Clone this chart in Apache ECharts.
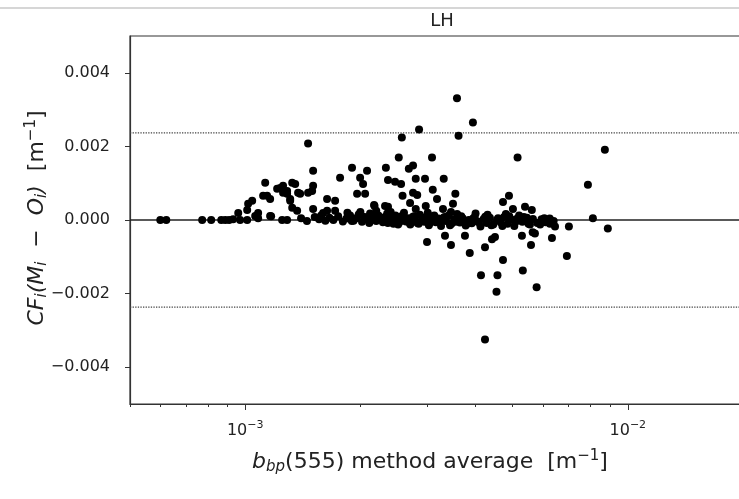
<!DOCTYPE html>
<html>
<head>
<meta charset="utf-8">
<script src="https://cdn.jsdelivr.net/npm/echarts@6/dist/echarts.min.js"></script>
<style>
  html, body { margin: 0; padding: 0; background: #fff; }
  #chart { width: 739px; height: 499px; }
</style>
</head>
<body>
<div id="chart"></div>
<script>
// b_bp(555) method average [m^-1]
const bbpAvg = [
  0.600e-3, 0.622e-3, 0.772e-3, 0.815e-3, 0.866e-3, 0.887e-3, 0.908e-3, 0.930e-3, 0.970e-3, 1.012e-3,
  1.081e-3, 1.169e-3, 1.249e-3, 1.287e-3,
  0.959e-3, 1.012e-3, 1.018e-3, 1.043e-3, 1.062e-3, 1.081e-3, 1.114e-3, 1.128e-3, 1.141e-3, 1.162e-3,
  1.162e-3, 1.212e-3, 1.234e-3, 1.256e-3, 1.287e-3, 1.327e-3, 1.351e-3, 1.287e-3, 1.311e-3, 1.327e-3,
  1.367e-3, 1.375e-3, 1.392e-3, 1.311e-3, 1.256e-3, 1.460e-3, 1.496e-3, 1.505e-3, 1.505e-3, 1.460e-3,
  1.505e-3, 1.637e-3, 1.637e-3, 1.718e-3, 1.718e-3, 1.598e-3, 1.770e-3, 1.902e-3, 1.997e-3, 2.033e-3,
  2.082e-3, 2.058e-3, 1.961e-3, 2.178e-3, 2.332e-3, 2.362e-3, 2.520e-3, 2.172e-3, 2.320e-3, 2.362e-3,
  2.464e-3, 2.555e-3, 2.677e-3, 2.746e-3, 2.791e-3, 2.951e-3, 3.303e-3, 2.578e-3, 2.746e-3, 2.816e-3,
  2.697e-3, 3.092e-3, 3.172e-3, 3.542e-3, 3.492e-3, 4.891e-3, 4.718e-3, 5.009e-3, 5.386e-3, 5.612e-3,
  2.964e-3, 3.288e-3, 2.791e-3,
  3.577e-3, 3.937e-3, 2.847e-3, 2.567e-3, 3.611e-3, 3.078e-3, 5.151e-3, 8.710e-3, 7.865e-3, 8.104e-3,
  8.867e-3,
  2.987e-3, 3.328e-3, 3.450e-3, 3.753e-3, 3.863e-3, 4.234e-3, 4.416e-3, 4.496e-3, 5.288e-3, 5.584e-3,
  6.335e-3, 7.015e-3, 6.930e-3, 4.718e-3, 4.133e-3, 4.564e-3, 4.537e-3, 5.316e-3, 5.776e-3, 4.234e-3,
  5.718e-3, 5.641e-3, 6.258e-3, 6.452e-3,
  1.40e-3, 1.45e-3, 1.52e-3, 1.56e-3, 1.62e-3, 1.66e-3, 1.70e-3, 1.75e-3, 1.80e-3, 1.84e-3,
  1.88e-3, 1.92e-3, 1.95e-3, 1.98e-3, 2.02e-3, 2.05e-3, 2.08e-3, 2.11e-3, 2.14e-3, 2.17e-3,
  2.20e-3, 2.23e-3, 2.26e-3, 2.29e-3, 2.32e-3, 2.35e-3, 2.38e-3, 2.41e-3, 2.44e-3, 2.47e-3,
  2.50e-3, 2.53e-3, 2.56e-3, 2.60e-3, 2.63e-3, 2.66e-3, 2.70e-3, 2.74e-3, 2.78e-3, 2.82e-3,
  2.86e-3, 2.90e-3, 2.94e-3, 2.98e-3, 3.02e-3, 3.06e-3, 3.10e-3, 3.15e-3, 3.20e-3, 3.25e-3,
  3.30e-3, 3.35e-3, 3.40e-3, 3.46e-3, 3.52e-3, 3.58e-3, 3.64e-3, 3.70e-3, 3.77e-3, 3.84e-3,
  3.91e-3, 3.98e-3, 4.05e-3, 4.12e-3, 4.20e-3, 4.28e-3, 4.36e-3, 4.45e-3, 4.55e-3, 4.65e-3,
  4.75e-3, 4.85e-3, 4.95e-3, 5.05e-3, 5.15e-3, 5.30e-3, 5.45e-3, 5.55e-3, 5.65e-3, 5.80e-3,
  5.95e-3, 6.10e-3, 6.25e-3, 6.40e-3,
  1.85e-3, 2.00e-3, 2.12e-3, 2.40e-3, 3.00e-3, 3.45e-3, 4.00e-3, 4.30e-3, 4.80e-3, 5.20e-3,
  2.20e-3, 1.58e-3,
  2.36e-3, 2.43e-3, 2.51e-3, 2.58e-3, 2.68e-3, 2.76e-3, 2.84e-3, 2.92e-3, 3.04e-3, 3.12e-3,
  3.22e-3, 3.32e-3, 3.43e-3, 3.55e-3, 3.67e-3, 3.80e-3, 3.94e-3, 4.08e-3, 4.24e-3, 4.40e-3,
  4.58e-3, 4.70e-3, 4.90e-3, 5.10e-3, 5.35e-3, 5.50e-3, 5.90e-3, 6.05e-3, 1.90e-3, 2.06e-3
];

// CF_i (M_i - O_i) [m^-1]
const cfDiff = [
  0, 0, 0, 0, 0, 0, 0, 0.02e-3, 0, 0,
  0.05e-3, 0.10e-3, 0, 0,
  0.19e-3, 0.27e-3, 0.44e-3, 0.52e-3, 0.11e-3, 0.19e-3, 0.66e-3, 1.01e-3, 0.66e-3, 0.57e-3,
  0.11e-3, 0.85e-3, 0.87e-3, 0.93e-3, 0.79e-3, 1.01e-3, 0.98e-3, 0.71e-3, 0.57e-3, 0.33e-3,
  0.25e-3, 0.74e-3, 0.71e-3, 0.52e-3, 0.74e-3, 0.74e-3, 0.79e-3, 0.93e-3, 1.34e-3, 2.08e-3,
  0.30e-3, 0.57e-3, 0.25e-3, 0.52e-3, 0.25e-3, 0.19e-3, 1.15e-3, 1.42e-3, 1.15e-3, 0.98e-3,
  1.34e-3, 0.71e-3, 0.71e-3, 0.38e-3, 1.42e-3, 1.09e-3, 1.70e-3, 0.41e-3, 0.38e-3, 0.36e-3,
  1.04e-3, 0.98e-3, 1.39e-3, 1.48e-3, 1.12e-3, 1.12e-3, 1.12e-3, 0.66e-3, 0.74e-3, 0.68e-3,
  0.46e-3, 0.82e-3, 0.57e-3, 0.71e-3, 0.44e-3, 0.66e-3, 0.49e-3, 0.30e-3, 0.36e-3, 0.27e-3,
  0.38e-3, 0.30e-3, 0.30e-3,
  3.31e-3, 2.65e-3, 2.46e-3, 2.24e-3, 2.29e-3, 1.70e-3, 1.70e-3, 1.91e-3, 0.96e-3, 0.05e-3,
  -0.23e-3,
  -0.60e-3, -0.43e-3, -0.68e-3, -0.43e-3, -0.90e-3, -0.74e-3, -0.52e-3, -0.46e-3, -0.43e-3, -0.68e-3,
  -0.49e-3, -0.18e-3, -0.98e-3, -1.09e-3, -1.50e-3, -1.50e-3, -1.95e-3, -1.37e-3, -1.83e-3, -3.25e-3,
  -0.37e-3, -0.33e-3, -0.10e-3, -0.18e-3,
  0.05e-3, -0.03e-3, 0.08e-3, 0.02e-3, -0.02e-3, 0.06e-3, 0, 0.10e-3, -0.04e-3, 0.04e-3,
  0.12e-3, -0.02e-3, 0.05e-3, 0.15e-3, -0.05e-3, 0.08e-3, 0.02e-3, -0.08e-3, 0.10e-3, 0.03e-3,
  -0.03e-3, 0.12e-3, 0.05e-3, -0.06e-3, 0.08e-3, 0.18e-3, -0.02e-3, 0.06e-3, -0.10e-3, 0.12e-3,
  0.02e-3, -0.06e-3, 0.10e-3, 0.20e-3, -0.04e-3, 0.05e-3, -0.12e-3, 0.08e-3, 0, -0.08e-3,
  0.14e-3, 0.03e-3, -0.05e-3, 0.09e-3, -0.14e-3, 0.02e-3, 0.10e-3, -0.06e-3, 0.04e-3, -0.16e-3,
  0.06e-3, -0.03e-3, 0.12e-3, -0.10e-3, 0.02e-3, 0.16e-3, -0.07e-3, 0.05e-3, -0.15e-3, 0,
  -0.09e-3, 0.08e-3, -0.04e-3, -0.18e-3, 0.03e-3, -0.08e-3, 0.06e-3, -0.12e-3, 0, -0.06e-3,
  0.08e-3, -0.10e-3, 0.02e-3, -0.16e-3, 0.05e-3, -0.05e-3, 0.06e-3, -0.12e-3, 0.03e-3, -0.08e-3,
  0.02e-3, -0.06e-3, 0.04e-3, -0.03e-3,
  0.20e-3, 0.22e-3, 0.18e-3, 0.22e-3, 0.20e-3, 0.22e-3, 0.18e-3, 0.14e-3, 0.16e-3, 0.12e-3,
  0.25e-3, 0.12e-3,
  -0.08e-3, 0.04e-3, -0.12e-3, 0.08e-3, -0.06e-3, 0.10e-3, -0.10e-3, 0.06e-3, -0.08e-3, 0.12e-3,
  -0.04e-3, 0.08e-3, -0.14e-3, -0.05e-3, 0.10e-3, -0.10e-3, 0.04e-3, -0.06e-3, 0.09e-3, -0.14e-3,
  0.05e-3, -0.16e-3, 0.10e-3, -0.04e-3, 0.08e-3, -0.10e-3, -0.12e-3, 0.05e-3, -0.03e-3, 0.06e-3
];

const yTicks = [-0.004, -0.002, 0, 0.002, 0.004];
const xMajorTicks = [1e-3, 1e-2];
const xMinorTicks = [5e-4, 6e-4, 7e-4, 8e-4, 9e-4, 2e-3, 3e-3, 4e-3, 5e-3, 6e-3, 7e-3, 8e-3, 9e-3, 2e-2];
const xRange = [5e-4, 2e-2];
const limitLines = [0.00237, -0.00237];
const zeroLine = 0;

const FONT = 'DejaVu Sans';
const AXIS_COLOR = '#333';
const TEXT_COLOR = '#222';

const chart = echarts.init(document.getElementById('chart'));

// horizontal reference line drawn across the full x range
const hLine = (y, style) => ({
  type: 'line',
  data: xRange.map(x => [x, y]),
  symbol: 'none',
  silent: true,
  z: 1,
  lineStyle: style
});

const option = {
  animation: false,
  backgroundColor: '#fff',
  textStyle: { fontFamily: FONT },
  title: {
    text: 'LH',
    left: 437,
    top: 7,
    textAlign: 'center',
    textStyle: { fontFamily: FONT, fontSize: 18, fontWeight: 'normal', color: TEXT_COLOR }
  },
  grid: {
    left: 130, top: 36, width: 613, height: 368,
    outerBoundsMode: 'none',
    show: true, borderColor: AXIS_COLOR, borderWidth: 1.2
  },
  xAxis: [{
    type: 'log', logBase: 10, min: xRange[0], max: xRange[1],
    axisLine: { show: true, onZero: false, lineStyle: { color: AXIS_COLOR, width: 1.2 } },
    axisTick: { show: true, customValues: xMajorTicks, length: 6, lineStyle: { color: AXIS_COLOR } },
    axisLabel: {
      customValues: xMajorTicks, margin: 16, color: TEXT_COLOR,
      formatter: v => '10{sup|' + (v < 5e-3 ? '\u22123' : '\u22122') + '}',
      rich: { sup: { fontSize: 11, fontFamily: FONT, color: TEXT_COLOR, padding: [0, 0, 11, 0] } },
      fontSize: 16, fontFamily: FONT
    },
    splitLine: { show: false }
  }, {
    type: 'log', logBase: 10, min: xRange[0], max: xRange[1], position: 'bottom',
    axisLine: { show: false, onZero: false },
    axisTick: { show: true, customValues: xMinorTicks, length: 3, lineStyle: { color: AXIS_COLOR } },
    axisLabel: { show: false },
    splitLine: { show: false }
  }],
  yAxis: {
    type: 'value', min: -0.005, max: 0.005,
    axisLine: { show: true, onZero: false, lineStyle: { color: AXIS_COLOR, width: 1.2 } },
    axisTick: { show: true, customValues: yTicks, length: 5, lineStyle: { color: AXIS_COLOR } },
    axisLabel: {
      customValues: yTicks, margin: 20, color: TEXT_COLOR, fontSize: 16, fontFamily: FONT,
      formatter: v => (v < 0 ? '\u2212' : '') + Math.abs(v).toFixed(3)
    },
    splitLine: { show: false }
  },
  graphic: [
    {
      type: 'line', silent: true,
      shape: { x1: 0, y1: 8, x2: 739, y2: 8 },
      style: { stroke: '#c8c8c8', lineWidth: 1.5 }
    },
    {
      type: 'text', silent: true,
      x: 430, y: 462,
      style: {
        text: '{it|b}{sub|bp}(555) method average  [m{sup|\u22121}]',
        fontFamily: FONT, fontSize: 22, fill: TEXT_COLOR,
        align: 'center', verticalAlign: 'middle',
        rich: {
          it: { fontStyle: 'italic', fontSize: 22, fontFamily: FONT },
          sub: { fontStyle: 'italic', fontSize: 15, fontFamily: FONT, padding: [11, 0, 0, 0] },
          sup: { fontSize: 15, fontFamily: FONT, padding: [0, 0, 12, 0] }
        }
      }
    },
    {
      type: 'text', silent: true,
      x: 37, y: 218, rotation: Math.PI / 2,
      style: {
        text: '{it|CF}{sub|i}{it|(M}{sub|i}{n|  \u2212  }{it|O}{sub|i}{it|)}  [m{sup|\u22121}]',
        fontFamily: FONT, fontSize: 22, fill: TEXT_COLOR,
        align: 'center', verticalAlign: 'middle',
        rich: {
          it: { fontStyle: 'italic', fontSize: 22, fontFamily: FONT },
          n: { fontSize: 22, fontFamily: FONT },
          sub: { fontStyle: 'italic', fontSize: 15, fontFamily: FONT, padding: [11, 0, 0, 0] },
          sup: { fontSize: 15, fontFamily: FONT, padding: [0, 0, 12, 0] }
        }
      }
    }
  ],
  series: [
    hLine(zeroLine, { color: '#222', width: 1.5, type: 'solid' }),
    hLine(limitLines[0], { color: '#444', width: 1.3, type: 'dotted' }),
    hLine(limitLines[1], { color: '#444', width: 1.3, type: 'dotted' }),
    {
      type: 'scatter',
      xAxisIndex: 0,
      z: 3,
      data: bbpAvg.map((x, i) => [x, cfDiff[i]]),
      symbolSize: 8,
      itemStyle: { color: '#000', opacity: 1 }
    }
  ]
};

chart.setOption(option);
window.addEventListener('resize', () => chart.resize());
</script>
</body>
</html>
